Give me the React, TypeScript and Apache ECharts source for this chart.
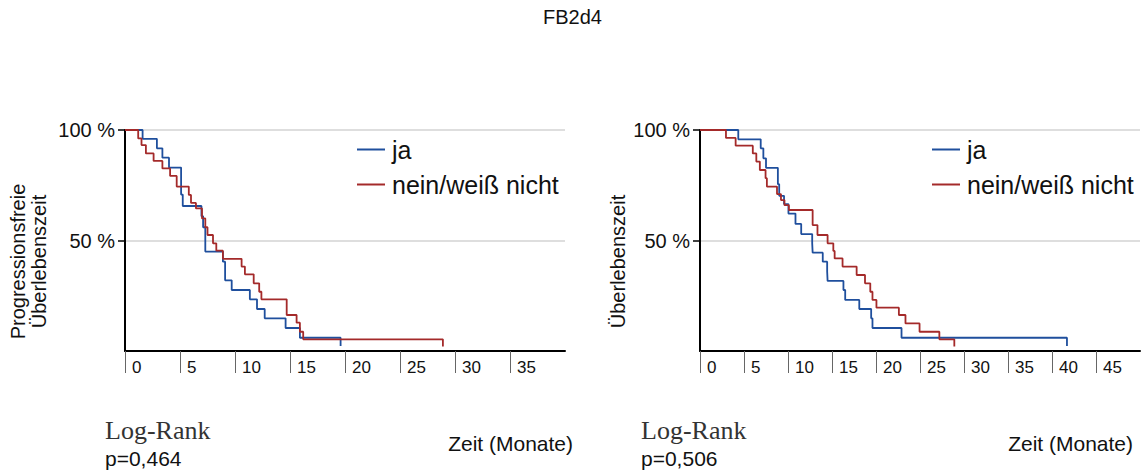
import React, { useEffect, useRef } from "react";
import * as echarts from "echarts";

const titleText = "FB2d4";
const seriesNames = ["ja", "nein/weiß nicht"];
const leftYName = "Progressionsfreie\nÜberlebenszeit";
const rightYName = "Überlebenszeit";
const xName = "Zeit (Monate)";
const testName = "Log-Rank";
const leftP = "p=0,464";
const rightP = "p=0,506";

// Left panel (Progressionsfreie Überlebenszeit)
const leftJaTime = [0, 1.6, 2.9, 3.4, 4.0, 5.1, 5.25, 6.95, 7.1, 7.3, 8.9, 9.1, 9.7, 11.35, 12.0, 12.7, 14.6, 15.9, 19.6, 19.6];
const leftJaSurv = [100, 96, 91.7, 87.5, 83, 70.8, 65.6, 61, 56, 45, 40.4, 32, 27.6, 23.4, 19, 14.8, 10.4, 6, 6, 2.3];
const leftNeinTime = [0, 1.2, 1.5, 1.9, 2.6, 3.4, 4.1, 4.7, 5.8, 6.0, 6.45, 7.0, 7.3, 7.5, 8.0, 8.3, 8.9, 10.6, 10.9, 11.7, 12.2, 12.4, 14.7, 15.6, 15.9, 16.2, 28.9, 28.9];
const leftNeinSurv = [100, 96.2, 93.2, 89.4, 86, 82.6, 79.2, 74.4, 70.6, 67, 64.5, 60, 56, 52.5, 48.7, 45.4, 41.7, 38.2, 34.7, 30.6, 26.8, 23.4, 16.3, 12.8, 8.7, 5.3, 5.3, 2];

// Right panel (Überlebenszeit)
const rightJaTime = [0, 4.35, 6.9, 7.2, 7.5, 8.85, 9.0, 9.55, 10.05, 10.85, 11.5, 12.75, 12.8, 13.95, 14.45, 14.5, 16.3, 16.5, 18.1, 19.45, 19.6, 22.9, 41.7, 41.7];
const rightJaSurv = [100, 95.8, 91.7, 87.2, 82.9, 75.5, 70.2, 66.5, 62.2, 57.5, 52.9, 48.7, 44.5, 40.4, 36, 31.7, 27.6, 23.1, 19, 14.8, 10.4, 6, 6, 2.3];
const rightNeinTime = [0, 2.95, 4.05, 6.0, 6.4, 6.8, 7.45, 7.6, 8.75, 9.2, 9.6, 10.1, 12.8, 13.35, 14.5, 15.15, 15.3, 16.2, 17.8, 18.75, 19.35, 19.6, 20.05, 22.6, 23.35, 24.95, 27.2, 28.9, 28.9];
const rightNeinSurv = [100, 96.4, 92.9, 89.4, 85.7, 81.9, 78.2, 74.4, 71, 68.3, 66, 63.8, 57, 52.5, 48.7, 45.3, 41.9, 38.2, 34.4, 30.6, 26.8, 23.1, 19.6, 16.3, 12.5, 8.7, 5.3, 5.3, 2];

const xMaxLeft = 40;
const xMaxRight = 50;
const xStep = 5;
const yTicks = 50;

const BLUE = "#1f4f9d";
const RED = "#a42a2a";
const FONT = "Liberation Sans";

const pairs = (t: number[], s: number[]) => t.map((v, i) => [v, s[i]]);

const xAxisFor = (gridIndex: number, max: number) => ({
  type: "value",
  gridIndex,
  min: 0,
  max,
  interval: xStep,
  axisLine: { show: true, onZero: false, lineStyle: { color: "#000", width: 2 } },
  axisTick: { show: true, length: 22, lineStyle: { color: "#666", width: 1 } },
  axisLabel: {
    showMaxLabel: false,
    align: "left",
    margin: 8,
    padding: [0, 0, 0, 7],
    fontSize: 17,
    color: "#111",
    fontFamily: FONT,
  },
  splitLine: { show: false },
});

const yAxisFor = (gridIndex: number, name: string, nameGap: number) => ({
  type: "value",
  gridIndex,
  min: 0,
  max: 100,
  interval: yTicks,
  axisLine: { show: true, lineStyle: { color: "#000", width: 2 } },
  axisTick: { show: true, length: 7, lineStyle: { color: "#000", width: 1.5 } },
  axisLabel: {
    showMinLabel: false,
    formatter: "{value} %",
    margin: 10,
    fontSize: 20,
    color: "#111",
    fontFamily: FONT,
  },
  splitLine: { show: true, lineStyle: { color: "#d3d3d3", width: 1.5 } },
  name,
  nameLocation: "middle",
  nameRotate: 90,
  nameGap,
  nameTextStyle: {
    fontSize: 20,
    lineHeight: 21,
    color: "#111",
    fontFamily: FONT,
    padding: [0, 42, 0, 0],
  },
});

const lineSeries = (name: string, color: string, axis: number, t: number[], s: number[]) => ({
  type: "line",
  name,
  xAxisIndex: axis,
  yAxisIndex: axis,
  step: "end",
  symbol: "none",
  color,
  lineStyle: { color, width: 1.8 },
  data: pairs(t, s),
});

const legendAt = (left: number) => ({
  left,
  top: 137,
  orient: "vertical",
  padding: 0,
  itemWidth: 28,
  itemHeight: 2,
  itemGap: 10,
  icon: "rect",
  data: seriesNames,
  textStyle: { fontSize: 25, color: "#111", fontFamily: FONT, padding: [0, 0, 0, 2] },
});

const textEl = (text: string, x: number, y: number, size: number, family: string, align: string, fill = "#111") => ({
  type: "text",
  x,
  y,
  style: { text, fontSize: size, fontFamily: family, fill, align, verticalAlign: "middle" },
});

export default function App() {
  const ref = useRef<HTMLDivElement>(null);
  useEffect(() => {
    if (!ref.current) return;
    const chart = echarts.init(ref.current, null, { renderer: "svg" });
    chart.setOption({
      animation: false,
      backgroundColor: "#fff",
      title: {
        text: titleText,
        left: "center",
        top: 7,
        padding: 0,
        textStyle: { fontSize: 20, fontWeight: "normal", color: "#111", fontFamily: FONT },
      },
      grid: [
        { left: 125, top: 130, width: 440, height: 221, containLabel: false },
        { left: 700, top: 130, width: 440, height: 221, containLabel: false },
      ],
      xAxis: [xAxisFor(0, xMaxLeft), xAxisFor(1, xMaxRight)],
      yAxis: [yAxisFor(0, leftYName, 76), yAxisFor(1, rightYName, 72)],
      legend: [legendAt(357), legendAt(932)],
      series: [
        lineSeries(seriesNames[0], BLUE, 0, leftJaTime, leftJaSurv),
        lineSeries(seriesNames[1], RED, 0, leftNeinTime, leftNeinSurv),
        lineSeries(seriesNames[0], BLUE, 1, rightJaTime, rightJaSurv),
        lineSeries(seriesNames[1], RED, 1, rightNeinTime, rightNeinSurv),
      ],
      graphic: [
        textEl(testName, 105, 430, 26, "Liberation Serif", "left", "#333"),
        textEl(leftP, 105, 458, 21, FONT, "left"),
        textEl(xName, 573, 443, 21, FONT, "right"),
        textEl(testName, 641, 430, 26, "Liberation Serif", "left", "#333"),
        textEl(rightP, 641, 458, 21, FONT, "left"),
        textEl(xName, 1133, 443, 21, FONT, "right"),
      ],
    });
    return () => chart.dispose();
  }, []);
  return <div ref={ref} style={{ position: "absolute", left: 0, top: 0, width: 1145, height: 471 }} />;
}
